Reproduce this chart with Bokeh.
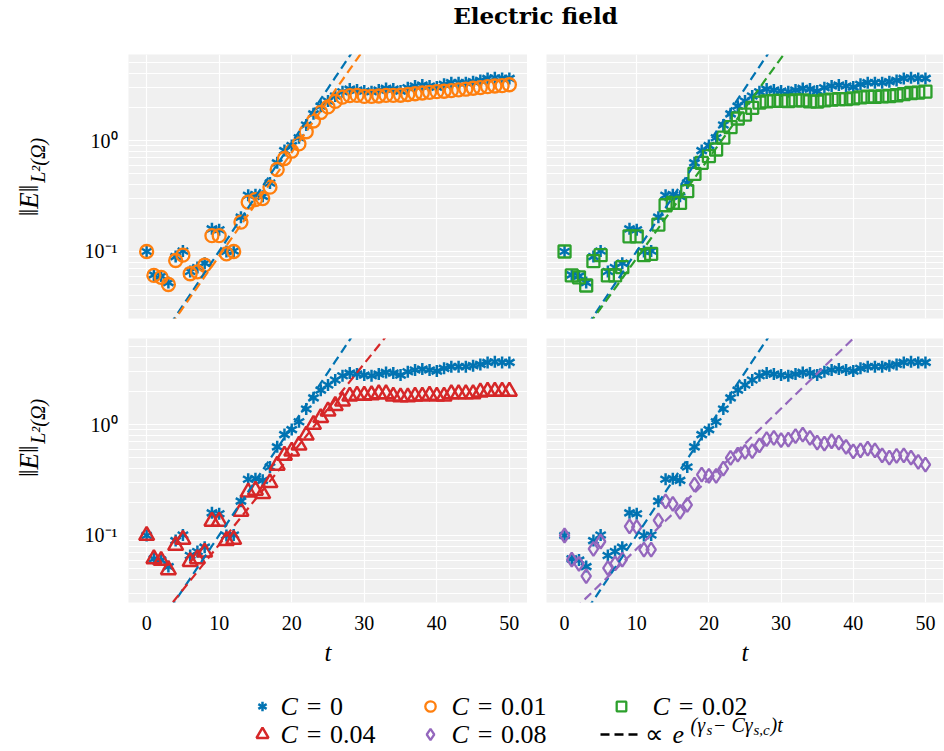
import math
from bokeh.plotting import figure
from bokeh.models import Range1d, FixedTicker
from bokeh.layouts import column, row
from bokeh.core.properties import value
from bokeh.embed import file_html
from bokeh.resources import INLINE

# ---------------- data ----------------
t = list(range(51))

E_C0 = [0.100, 0.0615, 0.0600, 0.0525, 0.090, 0.101, 0.066, 0.0717, 0.0785, 0.160,
        0.157, 0.100, 0.101, 0.204, 0.321, 0.325, 0.314, 0.414, 0.629, 0.812,
        0.901, 1.06, 1.38, 1.74, 2.04, 2.27, 2.52, 2.75, 2.91, 2.85,
        2.79, 2.75, 2.85, 2.95, 2.91, 2.79, 2.99, 3.10, 3.16, 3.10,
        3.03, 3.21, 3.32, 3.32, 3.32, 3.39, 3.48, 3.63, 3.68, 3.63, 3.63]

E_C001 = [0.100, 0.0609, 0.0585, 0.0504, 0.083, 0.0927, 0.063, 0.0656, 0.0753, 0.139,
          0.139, 0.0953, 0.100, 0.184, 0.278, 0.294, 0.300, 0.380, 0.548, 0.689,
          0.801, 0.933, 1.20, 1.50, 1.79, 2.01, 2.25, 2.46, 2.54, 2.55,
          2.50, 2.50, 2.52, 2.55, 2.55, 2.56, 2.60, 2.64, 2.68, 2.72,
          2.76, 2.78, 2.82, 2.86, 2.90, 2.96, 3.00, 3.06, 3.10, 3.12, 3.18]

E_C002 = [0.100, 0.0609, 0.0585, 0.0494, 0.0818, 0.0927, 0.0609, 0.0609, 0.0722, 0.137,
          0.137, 0.0927, 0.0953, 0.175, 0.261, 0.274, 0.274, 0.350, 0.501, 0.629,
          0.723, 0.830, 1.06, 1.32, 1.58, 1.71, 1.97, 2.20, 2.25, 2.28,
          2.28, 2.27, 2.30, 2.30, 2.25, 2.24, 2.30, 2.34, 2.36, 2.36,
          2.40, 2.45, 2.48, 2.48, 2.50, 2.52, 2.56, 2.62, 2.68, 2.70, 2.76]

E_C004 = [0.100, 0.0616, 0.0595, 0.049, 0.0813, 0.092, 0.0582, 0.0616, 0.0707, 0.134,
          0.134, 0.090, 0.092, 0.165, 0.246, 0.255, 0.238, 0.299, 0.429, 0.528,
          0.574, 0.650, 0.801, 1.00, 1.15, 1.32, 1.48, 1.62, 1.80, 1.83,
          1.83, 1.85, 1.89, 1.89, 1.80, 1.77, 1.77, 1.80, 1.80, 1.83,
          1.80, 1.80, 1.89, 1.89, 1.89, 1.89, 1.96, 1.99, 1.99, 1.99, 1.99]

E_C008 = [0.100, 0.0607, 0.0554, 0.043, 0.0758, 0.0883, 0.0507, 0.0562, 0.0607, 0.121,
          0.119, 0.0747, 0.0747, 0.137, 0.203, 0.193, 0.163, 0.189, 0.287, 0.353,
          0.344, 0.344, 0.400, 0.500, 0.536, 0.566, 0.575, 0.650, 0.737, 0.758,
          0.722, 0.732, 0.785, 0.810, 0.758, 0.688, 0.673, 0.707, 0.688, 0.629,
          0.574, 0.586, 0.607, 0.586, 0.528, 0.503, 0.521, 0.528, 0.503, 0.460, 0.435]

C_labels = ["0", "0.01", "0.02", "0.04", "0.08"]
# exponential growth fits  A * exp(rate * t)
fit_rate = [0.2252, 0.2151, 0.2077, 0.1877, 0.1455]
fit_amp = [0.0106, 0.0106, 0.0109, 0.0127, 0.0177]

x_ticks = [0, 10, 20, 30, 40, 50]
y_ticks = [0.1, 1]
y_tick_labels = {0.1: "10\u207b\u00b9", 1: "10\u2070"}
y_minor = [0.03, 0.04, 0.05, 0.06, 0.07, 0.08, 0.09,
           0.2, 0.3, 0.4, 0.5, 0.6, 0.7, 0.8, 0.9, 2, 3, 4, 5]

series_E = [E_C0, E_C001, E_C002, E_C004, E_C008]
COLORS = ["#0173b2", "#ff7f0e", "#2ca02c", "#d62728", "#9467bd"]
SERIF = "Liberation Serif"
BG = "#f0f0f0"

x_rng = Range1d(-2.5, 52.5)
y_rng = Range1d(0.0249, 5.96)

fits = [[a * math.exp(r * tt) for tt in t] for a, r in zip(fit_amp, fit_rate)]


def add_markers(p, k, s=1.0, xs=None, ys=None):
    xs = t if xs is None else xs
    ys = series_E[k] if ys is None else ys
    c = COLORS[k]
    if k == 0:
        for ang in (math.pi / 2, math.pi / 6, -math.pi / 6):
            p.scatter(xs, ys, marker="dash", angle=ang, size=12 * s,
                      line_color=c, line_width=2.5)
    elif k == 1:
        p.scatter(xs, ys, marker="circle", size=13 * s, fill_color=None,
                  line_color=c, line_width=2.3)
    elif k == 2:
        p.scatter(xs, ys, marker="square", size=12 * s, fill_color=None,
                  line_color=c, line_width=2.3)
    elif k == 3:
        p.scatter(xs, ys, marker="triangle", size=15 * s, fill_color=None,
                  line_color=c, line_width=2.5)
    elif k == 4:
        p.scatter(xs, ys, marker="diamond", size=14 * s, fill_color=None,
                  line_color=c, line_width=2.3)


def make_panel(k, show_x, show_y, width, height, left, bottom):
    p = figure(width=width, height=height, x_range=x_rng, y_range=y_rng,
               y_axis_type="log",
               x_axis_location="below" if show_x else None,
               y_axis_location="left" if show_y else None,
               toolbar_location=None, output_backend="svg",
               min_border_left=left, min_border_right=0, min_border_top=0,
               min_border_bottom=bottom, background_fill_color=BG,
               border_fill_color="white", outline_line_color=None)
    p.xgrid.ticker = FixedTicker(ticks=x_ticks)
    p.ygrid.ticker = FixedTicker(ticks=y_ticks, minor_ticks=y_minor)
    p.xgrid.grid_line_color = "white"
    p.xgrid.grid_line_width = 1.2
    p.ygrid.grid_line_color = "white"
    p.ygrid.grid_line_width = 1.2
    p.ygrid.minor_grid_line_color = "white"
    p.ygrid.minor_grid_line_width = 1.0
    if show_y:
        ax = p.yaxis[0]
        ax.ticker = FixedTicker(ticks=y_ticks)
        ax.major_label_overrides = y_tick_labels
        ax.axis_line_color = None
        ax.major_tick_line_color = None
        ax.minor_tick_line_color = None
        ax.major_tick_out = 0
        ax.major_label_standoff = 11
        ax.major_label_text_font = SERIF
        ax.major_label_text_font_size = "20px"
        ax.major_label_text_color = "black"
    if show_x:
        ax = p.xaxis[0]
        ax.ticker = FixedTicker(ticks=x_ticks)
        ax.axis_line_color = None
        ax.major_tick_line_color = None
        ax.minor_tick_line_color = None
        ax.major_tick_out = 0
        ax.major_label_standoff = 13
        ax.major_label_text_font = SERIF
        ax.major_label_text_font_size = "20px"
        ax.major_label_text_color = "black"
        ax.axis_label = "t"
        ax.axis_label_standoff = 6
        ax.axis_label_text_font = SERIF
        ax.axis_label_text_font_size = "25px"
        ax.axis_label_text_font_style = "italic"
        ax.axis_label_text_color = "black"
    add_markers(p, 0)
    add_markers(p, k)
    p.line(t, fits[0], line_color=COLORS[0], line_dash="9 5", line_width=2.2)
    p.line(t, fits[k], line_color=COLORS[k], line_dash="9 5", line_width=2.2)
    return p


def blank(width, height):
    f = figure(width=width, height=height, x_range=Range1d(0, width),
               y_range=Range1d(height, 0), x_axis_location=None, y_axis_location=None,
               toolbar_location=None, output_backend="svg", min_border=0,
               outline_line_color=None)
    f.grid.visible = False
    return f


def txt(f, x, y, s, size, style="normal", align="left", angle=0.0, font=SERIF):
    f.text(x=[x], y=[y], text=[s], text_font=value(font), text_font_style=style,
           text_font_size=size, text_align=align, text_baseline="middle",
           angle=angle, text_color="black")


def make_ylab(height):
    f = blank(60, height)
    txt(f, 28, 140, "\u2016E\u2016", "27px", style="italic", align="right",
        angle=math.pi / 2)
    txt(f, 37, 138, "L\u00b2(\u03a9)", "20px", style="italic", align="left",
        angle=math.pi / 2)
    return f


TOP_H, BOT_H = 284, 346
tl = make_panel(1, False, True, 467, TOP_H, 68, 20)
tr = make_panel(2, False, False, 416, TOP_H, 19, 20)
bl = make_panel(3, True, True, 467, BOT_H, 68, 82)
br = make_panel(4, True, False, 416, BOT_H, 19, 82)

# ---------------- title ----------------
title = blank(943, 54)
txt(title, 535, 15, "Electric field", "23px", style="bold", align="center",
    font="DejaVu Serif")

# ---------------- legend ----------------
leg = blank(943, 66)
col_marker_x = [262, 430, 621]
col_text_x = [280, 451, 652]
row_mid = [22, 50]
FS = "26px"
for k in range(5):
    col, rw = k % 3, k // 3
    add_markers(leg, k, s=0.8, xs=[col_marker_x[col]], ys=[row_mid[rw]])
    txt(leg, col_text_x[col], row_mid[rw], "C", FS, style="italic")
    txt(leg, col_text_x[col] + 17.5, row_mid[rw], "\u2004=\u2004" + C_labels[k], FS)
# fit legend entry
leg.line([600, 637], [row_mid[1], row_mid[1]], line_color="black", line_dash="9 5",
         line_width=2.5)
txt(leg, 644, row_mid[1], "\u221d", FS)
txt(leg, 672, row_mid[1], "e", FS, style="italic")
sup_y = row_mid[1] - 10
sub_y = sup_y + 5
for s_, px, py, fs in [("(\u03b3", 690, sup_y, "20px"), ("s", 706, sub_y, "15px"),
                       (" \u2212 C\u03b3", 712.5, sup_y, "20px"), ("s,c", 753, sub_y, "15px"),
                       (")t", 770, sup_y, "20px")]:
    txt(leg, px, py, s_, fs, style="italic")

layout = column(title,
                row(make_ylab(TOP_H), tl, tr),
                row(make_ylab(BOT_H), bl, br),
                leg)
open("out.html", "w").write(file_html(layout, INLINE, title="Electric field"))
